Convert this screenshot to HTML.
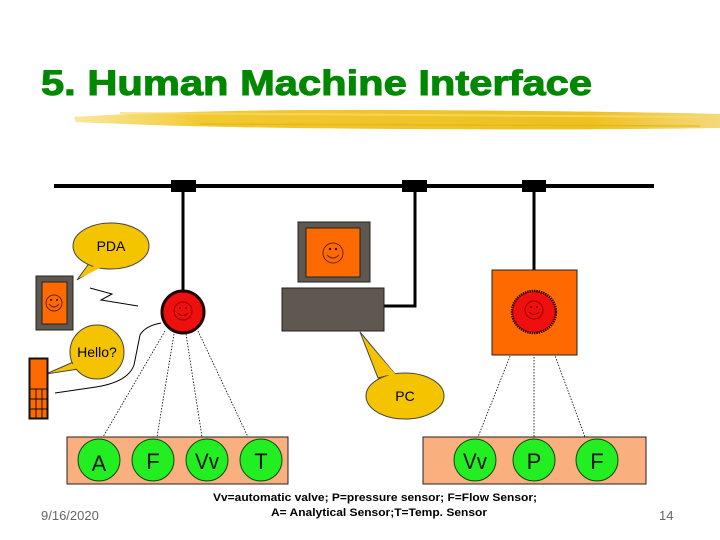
<!DOCTYPE html>
<html><head><meta charset="utf-8"><style>
html,body{margin:0;padding:0;background:#fff;width:720px;height:540px;overflow:hidden}
svg{display:block}
text{font-family:"Liberation Sans",sans-serif}
</style></head><body>
<svg width="720" height="540" viewBox="0 0 720 540" xmlns="http://www.w3.org/2000/svg">
<defs>
<linearGradient id="br" x1="0" x2="1" y1="0" y2="0">
<stop offset="0" stop-color="#f5d65a" stop-opacity="0.6"/>
<stop offset="0.2" stop-color="#f2c830"/>
<stop offset="0.8" stop-color="#eec020"/>
<stop offset="1" stop-color="#f0c840" stop-opacity="0.7"/>
</linearGradient>
</defs>
<text x="41" y="95" font-size="35" font-weight="bold" fill="#008800" stroke="#008800" stroke-width="1" textLength="551" lengthAdjust="spacingAndGlyphs">5. Human Machine Interface</text>
<path d="M74 117 Q200 109 400 110 Q600 111 720 114 L720 128 Q600 130 400 129 Q200 128 76 122 Z" fill="url(#br)"/>
<path d="M120 113 L700 117" stroke="#f7dc70" stroke-width="2" opacity="0.7"/>
<path d="M200 124 L700 126" stroke="#e0b010" stroke-width="1.5" opacity="0.6"/>

<!-- bus -->
<line x1="54" y1="186" x2="654" y2="186" stroke="#000" stroke-width="4"/>
<rect x="171" y="180" width="25" height="12" fill="#000"/>
<rect x="402" y="180" width="25" height="12" fill="#000"/>
<rect x="522" y="180" width="24" height="12" fill="#000"/>
<line x1="183" y1="186" x2="183" y2="292" stroke="#000" stroke-width="3"/>
<polyline points="384,306 415,306 415,186" fill="none" stroke="#000" stroke-width="3"/>
<line x1="534" y1="186" x2="534" y2="271" stroke="#000" stroke-width="3"/>

<!-- left controller -->
<ellipse cx="183" cy="312" rx="21" ry="21" fill="#ee0f0f" stroke="#200" stroke-width="3"/>
<g fill="none" stroke="#900" stroke-width="1"><circle cx="183" cy="311" r="9"/><path d="M178 313 Q183 318 188 313"/></g>
<circle cx="180" cy="308" r="1" fill="#600"/><circle cx="186" cy="308" r="1" fill="#600"/>

<g stroke="#000" stroke-width="0.8" stroke-dasharray="1.5,1.5" fill="none">
<line x1="165" y1="331" x2="103" y2="437"/>
<line x1="174" y1="334" x2="157" y2="437"/>
<line x1="186" y1="334" x2="202" y2="437"/>
<line x1="198" y1="331" x2="248" y2="437"/>
<line x1="520" y1="331" x2="478" y2="437"/>
<line x1="534" y1="333" x2="534" y2="437"/>
<line x1="546" y1="331" x2="585" y2="437"/>
</g>

<!-- PDA -->
<rect x="36" y="276" width="37" height="54" fill="#5e5850" stroke="#222" stroke-width="1"/>
<rect x="42" y="282" width="25" height="42" fill="#ff6a00" stroke="#222" stroke-width="1"/>
<g fill="none" stroke="#622" stroke-width="1"><circle cx="54" cy="303" r="8"/><path d="M49 304 Q54 310 59 304"/></g>
<circle cx="51" cy="300" r="1" fill="#400"/><circle cx="57" cy="300" r="1" fill="#400"/>
<path d="M90 288 L112 294 L101 300 L138 306" fill="none" stroke="#000" stroke-width="1"/>
<path d="M90 262 L77 280 L100 266" fill="#f5c400" stroke="#444" stroke-width="1"/>
<ellipse cx="111" cy="246" rx="38" ry="23" fill="#f5c400" stroke="#444" stroke-width="1"/>
<path d="M95 265 L80 278 L102 267 Z" fill="#f5c400"/>
<text x="111" y="251" font-size="14" text-anchor="middle" fill="#000">PDA</text>

<!-- phone -->
<path d="M161 323 Q145 326 140 335 Q137 350 134 365 Q128 382 96 387 L55 393" fill="none" stroke="#000" stroke-width="1"/>
<path d="M78 360 L46 374 L85 368" fill="#f5c400" stroke="#444" stroke-width="1"/>
<ellipse cx="97" cy="352" rx="27" ry="27" fill="#f5c400" stroke="#444" stroke-width="1"/>
<path d="M80 361 L50 373 L86 367 Z" fill="#f5c400"/>
<text x="97" y="357" font-size="14" text-anchor="middle" fill="#000">Hello?</text>
<rect x="29.5" y="358.5" width="18" height="60" fill="#ff6a00" stroke="#111" stroke-width="2"/>
<g stroke="#111" stroke-width="1"><line x1="30" y1="389" x2="47" y2="389"/><line x1="30" y1="399" x2="47" y2="399"/><line x1="30" y1="409" x2="47" y2="409"/><line x1="36" y1="389" x2="36" y2="418"/><line x1="42" y1="389" x2="42" y2="418"/></g>

<!-- PC -->
<rect x="298" y="222" width="72" height="60" fill="#5e5850" stroke="#222" stroke-width="1"/>
<rect x="306" y="228" width="54" height="49" fill="#ff6a00" stroke="#222" stroke-width="1"/>
<g fill="none" stroke="#622" stroke-width="1"><circle cx="333" cy="253" r="10"/><path d="M327 255 Q333 261 339 255"/></g>
<circle cx="330" cy="249" r="1.2" fill="#400"/><circle cx="336" cy="249" r="1.2" fill="#400"/>
<rect x="282" y="288" width="102" height="43" fill="#5e5850" stroke="#222" stroke-width="1"/>
<path d="M360 332 L395 374 L378 378 Z" fill="#f5c400" stroke="#444" stroke-width="1"/>
<ellipse cx="405" cy="396" rx="39" ry="23" fill="#f5c400" stroke="#444" stroke-width="1"/>
<path d="M383 375 L362 336 L397 376 Z" fill="#f5c400"/>
<text x="405" y="401" font-size="14" text-anchor="middle" fill="#000">PC</text>

<!-- right controller -->
<rect x="492" y="270" width="85" height="85" fill="#ff6a00" stroke="#222" stroke-width="1"/>
<ellipse cx="534" cy="312" rx="22" ry="21" fill="#ee0f0f" stroke="#300" stroke-width="2.5" stroke-dasharray="1.5,0.8"/>
<g fill="none" stroke="#900" stroke-width="1"><circle cx="534" cy="310" r="9"/><path d="M529 312 Q534 317 539 312"/></g>
<circle cx="531" cy="307" r="1" fill="#600"/><circle cx="537" cy="307" r="1" fill="#600"/>

<!-- bottom boxes -->
<rect x="67" y="437" width="221" height="47" fill="#f9b07e" stroke="#222" stroke-width="1"/>
<rect x="423" y="437" width="223" height="47" fill="#f9b07e" stroke="#222" stroke-width="1"/>
<g fill="#22ee22" stroke="#114411" stroke-width="1">
<ellipse cx="99" cy="460" rx="21" ry="21"/><ellipse cx="153" cy="460" rx="21" ry="21"/>
<ellipse cx="207" cy="460" rx="21" ry="21"/><ellipse cx="261" cy="460" rx="21" ry="21"/>
<ellipse cx="475" cy="460" rx="21" ry="21"/><ellipse cx="534" cy="460" rx="21" ry="21"/>
<ellipse cx="597" cy="460" rx="21" ry="21"/>
</g>
<g font-size="22" text-anchor="middle" fill="#111">
<text x="99" y="471">A</text><text x="153" y="469">F</text><text x="207" y="469" textLength="24" lengthAdjust="spacingAndGlyphs">Vv</text><text x="261" y="469">T</text>
<text x="475" y="469" textLength="24" lengthAdjust="spacingAndGlyphs">Vv</text><text x="534" y="469">P</text><text x="597" y="469">F</text>
</g>

<text x="213" y="501" font-size="11" font-weight="bold" fill="#000" textLength="324" lengthAdjust="spacingAndGlyphs">Vv=automatic valve; P=pressure sensor; F=Flow Sensor;</text>
<text x="271" y="516" font-size="11" font-weight="bold" fill="#000" textLength="216" lengthAdjust="spacingAndGlyphs">A= Analytical Sensor;T=Temp. Sensor</text>
<text x="41" y="520" font-size="13" fill="#666">9/16/2020</text>
<text x="659" y="520" font-size="13" fill="#666">14</text>
</svg>
</body></html>
